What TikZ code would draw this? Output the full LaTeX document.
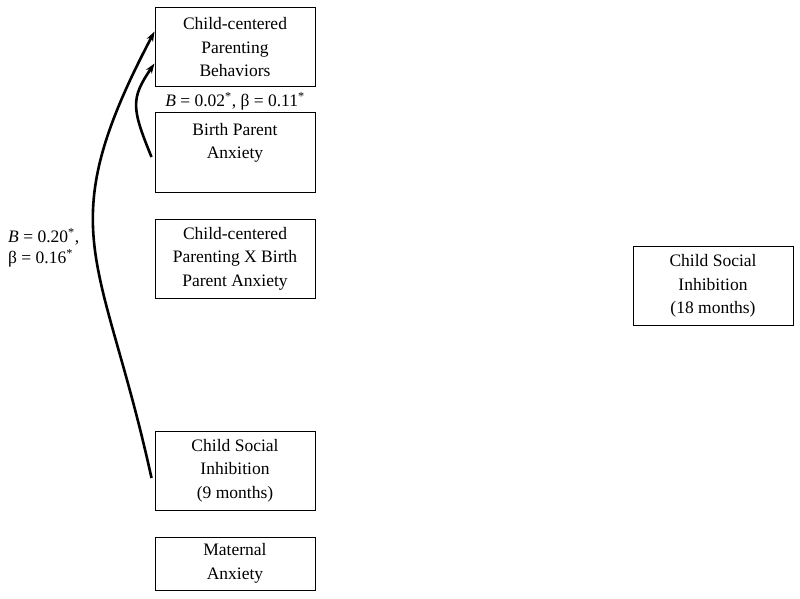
\documentclass[tikz,border=0pt]{standalone}
\usepackage{fontspec}
\setmainfont{Liberation Serif}
\usetikzlibrary{arrows.meta}

\tikzset{
    varbox/.style={rectangle, draw, line width=1pt, minimum width=160pt, minimum height=79pt,
        inner sep=0pt, align=center, font=\fontsize{17.5}{23.5}\selectfont},
    path/.style={line width=2.6pt, -{Stealth[length=10pt,width=7pt]}},
    coef/.style={font=\fontsize{17.5}{21}\selectfont, inner sep=0pt}
}

\begin{document}
\begin{tikzpicture}[x=1pt, y=-1pt]
        \useasboundingbox (0,0) rectangle (800,599);
        % Predictors on the left
        \node[varbox] (ccpb) at (235,47.5) {Child-centered\\Parenting\\Behaviors};
        \node[varbox] (bpa) at (235,152.5) {Birth Parent\\Anxiety\\\mbox{}};
        \node[varbox] (inter) at (235,258.5) {Child-centered\\Parenting X Birth\\Parent Anxiety};
        \node[varbox] (sib9) at (235,470.5) {Child Social\\Inhibition\\(9 months)};
        \node[varbox, minimum height=53pt] (matanx) at (235,563.5) {Maternal\\Anxiety};
        % Outcome on the right
        \node[varbox] (sib18) at (713,286) {Child Social\\Inhibition\\(18 months)};

        % Paths
        \draw[path] ([xshift=-3pt,yshift=-7.5pt]sib9.west) .. controls +(-49,-224) and +(-106,201) .. ([yshift=16pt]ccpb.west);
        \draw[path] ([xshift=-3pt,yshift=-4.5pt]bpa.west) .. controls +(-20,-49) and +(-24,35) .. ([yshift=-16pt]ccpb.west);

        % Coefficients
        \node[coef] (c1) at (235,101) {\textit{B} = 0.02\textsuperscript{*}, β = 0.11\textsuperscript{*}};
        \node[coef, anchor=west, align=left] (c2) at (8,248) {\textit{B} = 0.20\textsuperscript{*},\\β = 0.16\textsuperscript{*}};
    \end{tikzpicture}
\end{document}
